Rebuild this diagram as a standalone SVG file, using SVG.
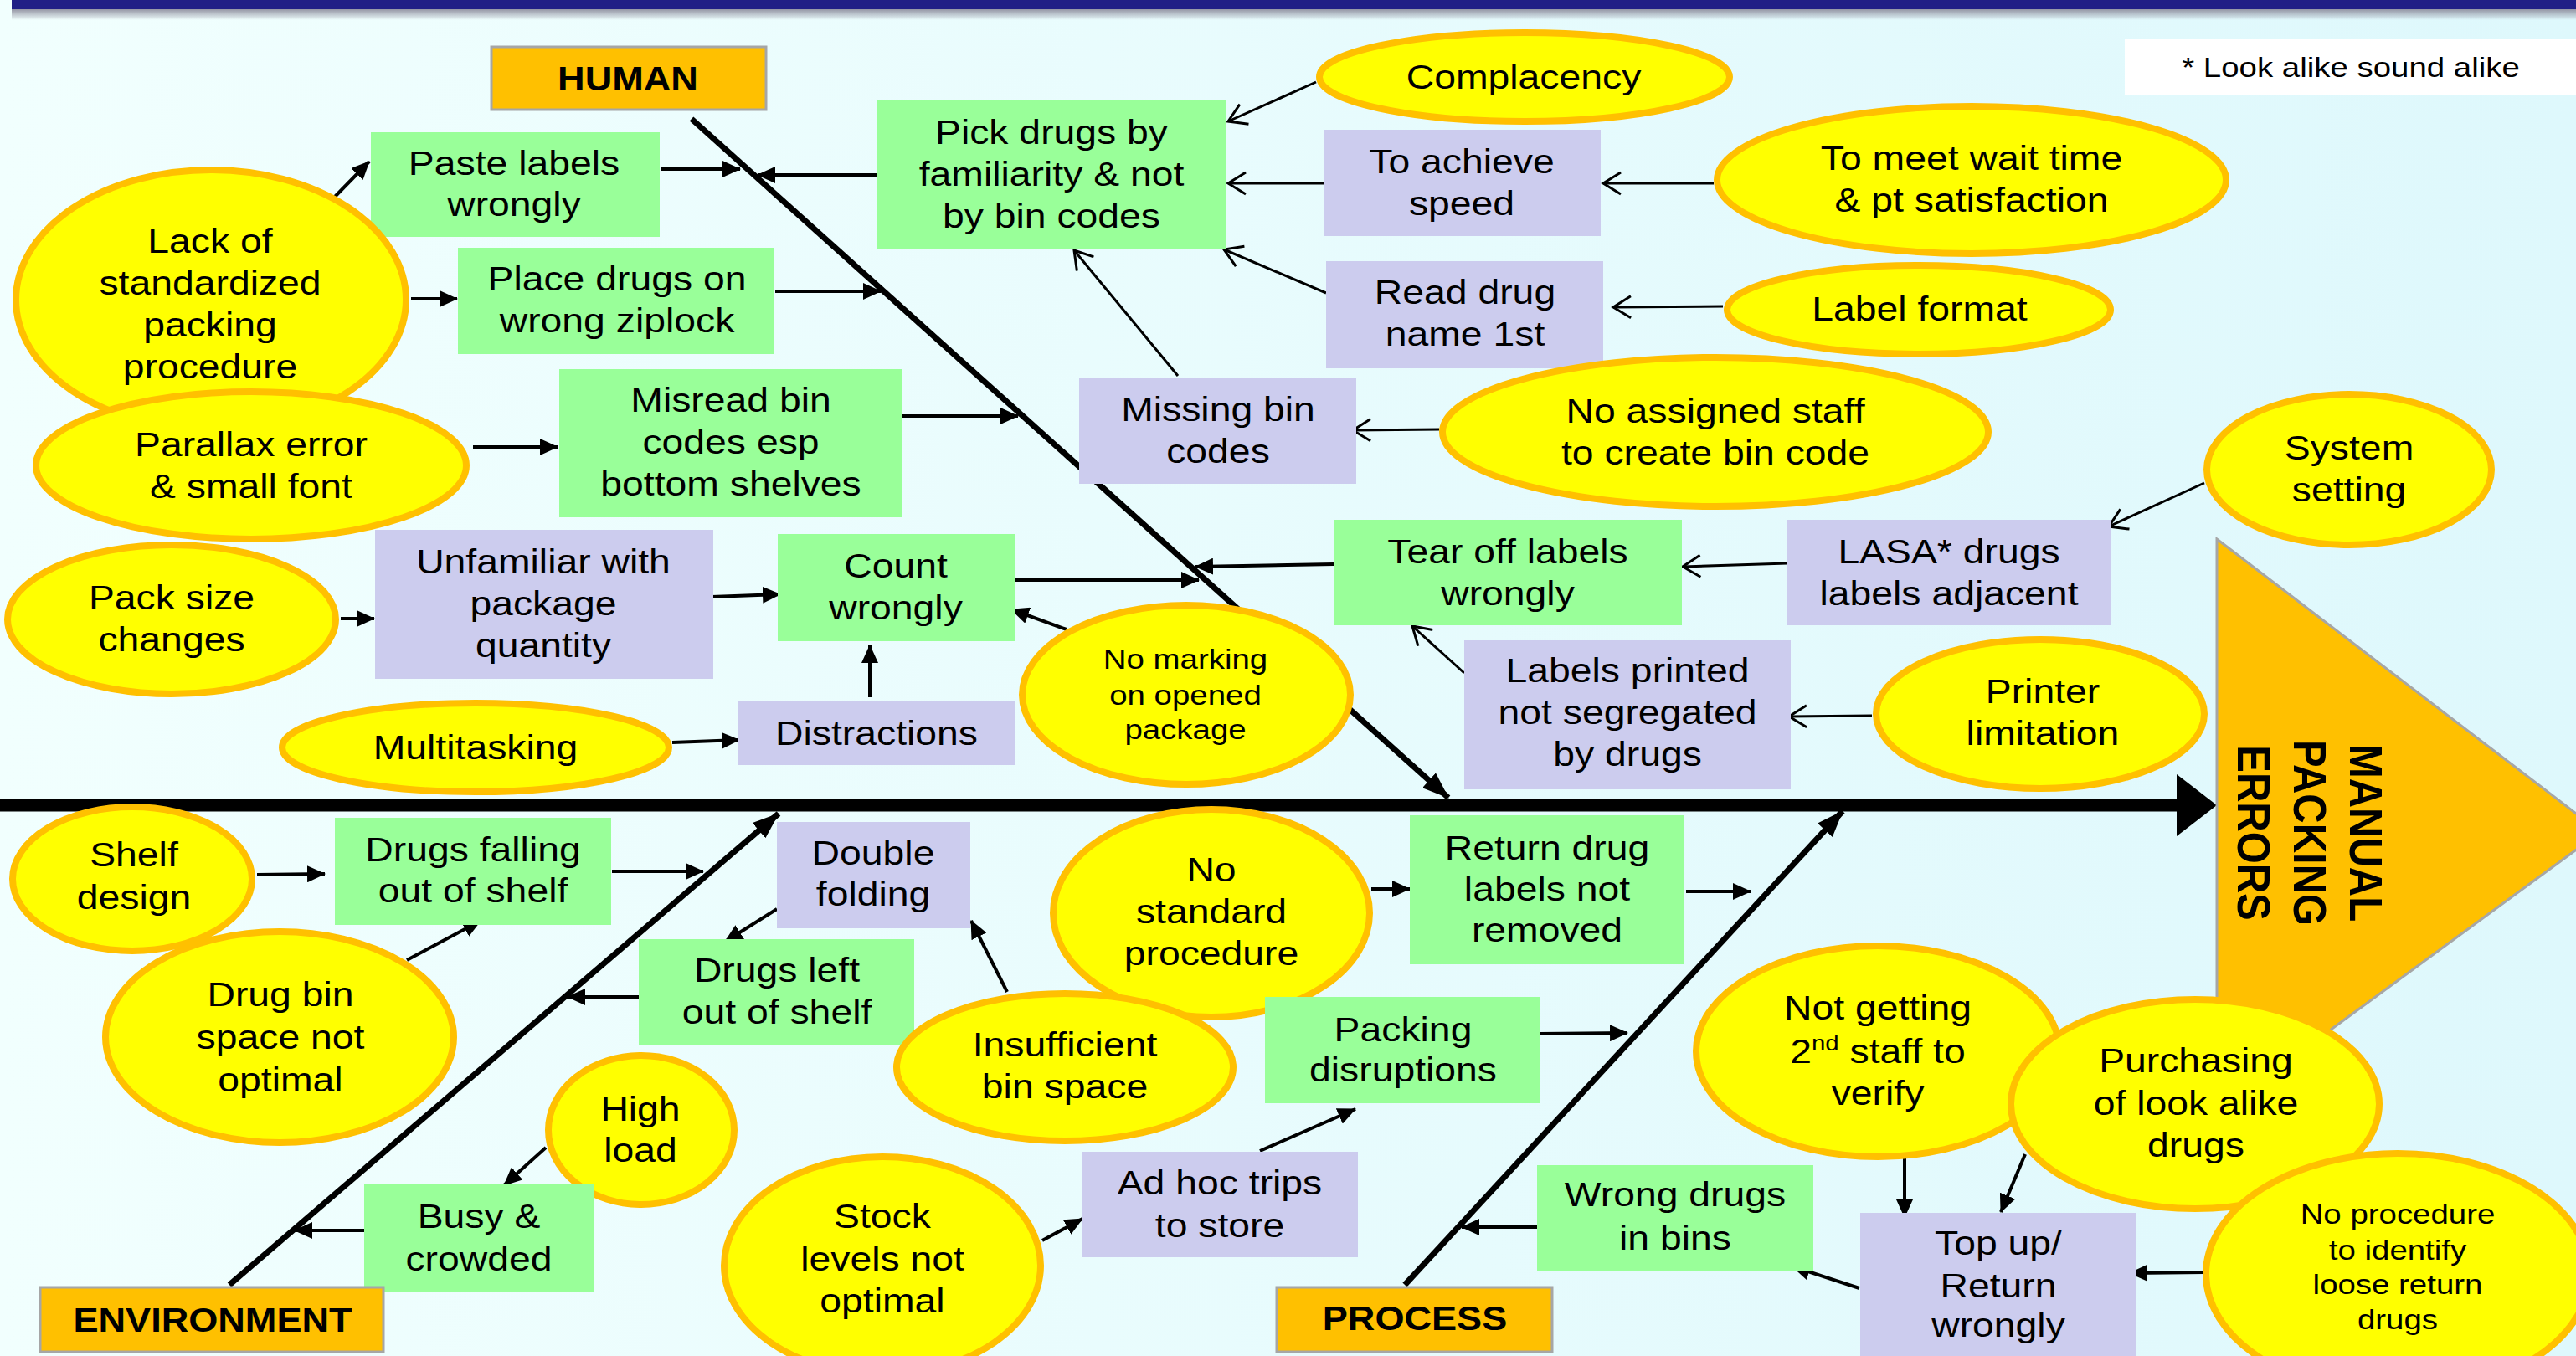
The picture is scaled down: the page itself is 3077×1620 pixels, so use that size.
<svg xmlns="http://www.w3.org/2000/svg" width="3077" height="1620" viewBox="0 0 3077 1620">
<defs>
<linearGradient id="bg" x1="0" y1="0" x2="1" y2="0">
<stop offset="0" stop-color="#F1FFFE"/><stop offset="1" stop-color="#DEF8FC"/>
</linearGradient>
<linearGradient id="sh" x1="0" y1="0" x2="0" y2="1">
<stop offset="0" stop-color="#8E8E9E"/><stop offset="1" stop-color="#8E8E9E" stop-opacity="0"/>
</linearGradient>
<marker id="fa" markerUnits="userSpaceOnUse" viewBox="0 0 22 20" markerWidth="22" markerHeight="20" refX="21" refY="10" orient="auto"><path d="M0,0 L22,10 L0,20 Z" fill="#000"/></marker>
<marker id="fb" markerUnits="userSpaceOnUse" viewBox="0 0 32 24" markerWidth="32" markerHeight="24" refX="31" refY="12" orient="auto"><path d="M0,0 L32,12 L0,24 Z" fill="#000"/></marker>
<marker id="oa" markerUnits="userSpaceOnUse" viewBox="0 0 26 30" markerWidth="26" markerHeight="30" refX="23" refY="15" orient="auto"><path d="M2,2 L23,15 L2,28" fill="none" stroke="#000" stroke-width="3"/></marker>
</defs>
<style>
.t{font-family:"Liberation Sans",Arial,sans-serif;font-size:41px;text-anchor:middle;fill:#000}
.s{font-size:34px}
.b{font-weight:bold}
.g{fill:#99FF99}
.l{fill:#CCCCEE}
.y{fill:#FFFF00;stroke:#FFC000;stroke-width:8}
.o{fill:#FFC000;stroke:#A6A6A6;stroke-width:3}
.cf{stroke:#000;stroke-width:4;fill:none;marker-end:url(#fa)}
.co{stroke:#000;stroke-width:3;fill:none;marker-end:url(#oa)}
.br{stroke:#000;stroke-width:7;fill:none;marker-end:url(#fb)}
</style>
<rect x="0" y="0" width="3077" height="1620" fill="url(#bg)"/>
<rect x="14" y="10" width="3063" height="14" fill="url(#sh)"/>
<rect x="14" y="0" width="3063" height="11" fill="#211F86"/>

<g id="connectors">
<line x1="0" y1="962" x2="2604" y2="962" stroke="#000" stroke-width="15"/>
<polygon points="2600,925 2648,962 2600,999" fill="#000"/>
<path class="br" d="M826,142 L1730,953"/>
<path class="br" d="M274,1535 L930,972"/>
<path class="br" d="M1678,1535 L2201,969"/>
<path class="cf" d="M400,235 L441,193"/>
<path class="cf" d="M491,357 L546,357"/>
<path class="cf" d="M789,202 L884,202"/>
<path class="cf" d="M926,348 L1052,348"/>
<path class="cf" d="M1077,497 L1216,497"/>
<path class="cf" d="M1047,209 L905,209"/>
<path class="cf" d="M1212,693 L1432,693"/>
<path class="cf" d="M1593,674 L1428,677"/>
<path class="cf" d="M1274,752 L1208,728"/>
<path class="cf" d="M1039,833 L1039,771"/>
<path class="cf" d="M850,713 L932,710"/>
<path class="cf" d="M407,739 L447,739"/>
<path class="cf" d="M803,887 L883,884"/>
<path class="cf" d="M565,534 L666,534"/>
<path class="cf" d="M307,1045 L388,1044"/>
<path class="cf" d="M731,1041 L840,1041"/>
<path class="cf" d="M486,1147 L574,1100"/>
<path class="cf" d="M928,1086 L866,1125"/>
<path class="cf" d="M763,1191 L678,1191"/>
<path class="cf" d="M652,1371 L602,1416"/>
<path class="cf" d="M435,1470 L352,1470"/>
<path class="cf" d="M1203,1185 L1160,1100"/>
<path class="cf" d="M1638,1062 L1684,1062"/>
<path class="cf" d="M2014,1065 L2091,1065"/>
<path class="cf" d="M1840,1235 L1944,1234"/>
<path class="cf" d="M1505,1375 L1619,1325"/>
<path class="cf" d="M1245,1482 L1293,1456"/>
<path class="cf" d="M1836,1466 L1746,1466"/>
<path class="cf" d="M2275,1376 L2275,1454"/>
<path class="cf" d="M2419,1379 L2390,1448"/>
<path class="cf" d="M2221,1539 L2141,1513"/>
<path class="cf" d="M2633,1520 L2544,1521"/>
<path class="co" d="M1572,98 L1467,145"/>
<path class="co" d="M1581,219 L1467,219"/>
<path class="co" d="M2047,219 L1915,219"/>
<path class="co" d="M1584,350 L1462,298"/>
<path class="co" d="M2058,366 L1927,367"/>
<path class="co" d="M1407,449 L1283,299" stroke-width="2"/>
<path class="co" d="M1719,513 L1616,514"/>
<path class="co" d="M2135,673 L2010,677"/>
<path class="co" d="M2633,577 L2519,629"/>
<path class="co" d="M1749,804 L1687,748"/>
<path class="co" d="M2236,855 L2137,856"/>
</g>

<g id="effect">
<polygon points="2648,644 3106,994 2648,1330" fill="#FFC000" stroke="#A6A6A6" stroke-width="3"/>
<text class="t b" font-size="49" transform="translate(2807 995) scale(1.13 1) rotate(90)" x="0" y="0" style="font-size:49px">MANUAL</text>
<text class="t b" transform="translate(2740 995) scale(1.13 1) rotate(90)" x="0" y="0" style="font-size:49px">PACKING</text>
<text class="t b" transform="translate(2673 995) scale(1.13 1) rotate(90)" x="0" y="0" style="font-size:49px">ERRORS</text>
</g>

<g id="human"><rect class="o" x="587" y="56" width="328" height="75"/><text class="t b" transform="translate(750 0) scale(1.1 1)" x="0" y="108">HUMAN</text></g>
<g id="paste"><rect class="g" x="443" y="158" width="345" height="125"/><text class="t" transform="translate(614 0) scale(1.13 1)"><tspan x="0" y="209">Paste labels</tspan><tspan x="0" y="258">wrongly</tspan></text></g>
<g id="place"><rect class="g" x="547" y="296" width="378" height="127"/><text class="t" transform="translate(737 0) scale(1.13 1)"><tspan x="0" y="347">Place drugs on</tspan><tspan x="0" y="397">wrong ziplock</tspan></text></g>
<g id="lack"><ellipse class="y" cx="252" cy="358" rx="233" ry="155"/><text class="t" transform="translate(251 0) scale(1.13 1)"><tspan x="0" y="302">Lack of</tspan><tspan x="0" y="352">standardized</tspan><tspan x="0" y="402">packing</tspan><tspan x="0" y="452">procedure</tspan></text></g>
<g id="misread"><rect class="g" x="668" y="441" width="409" height="177"/><text class="t" transform="translate(873 0) scale(1.13 1)"><tspan x="0" y="492">Misread bin</tspan><tspan x="0" y="542">codes esp</tspan><tspan x="0" y="592">bottom shelves</tspan></text></g>
<g id="parallax"><ellipse class="y" cx="300" cy="556" rx="257" ry="88"/><text class="t" transform="translate(300 0) scale(1.13 1)"><tspan x="0" y="545">Parallax error</tspan><tspan x="0" y="595">&amp; small font</tspan></text></g>
<g id="pack"><ellipse class="y" cx="205" cy="740" rx="196" ry="89"/><text class="t" transform="translate(205 0) scale(1.13 1)"><tspan x="0" y="728">Pack size</tspan><tspan x="0" y="778">changes</tspan></text></g>
<g id="unfamiliar"><rect class="l" x="448" y="633" width="404" height="178"/><text class="t" transform="translate(649 0) scale(1.13 1)"><tspan x="0" y="685">Unfamiliar with</tspan><tspan x="0" y="735">package</tspan><tspan x="0" y="785">quantity</tspan></text></g>
<g id="count"><rect class="g" x="929" y="638" width="283" height="128"/><text class="t" transform="translate(1070 0) scale(1.13 1)"><tspan x="0" y="690">Count</tspan><tspan x="0" y="740">wrongly</tspan></text></g>
<g id="multitasking"><ellipse class="y" cx="568" cy="893" rx="231" ry="53"/><text class="t" transform="translate(568 0) scale(1.13 1)" x="0" y="907">Multitasking</text></g>
<g id="distractions"><rect class="l" x="882" y="838" width="330" height="76"/><text class="t" transform="translate(1047 0) scale(1.13 1)" x="0" y="890">Distractions</text></g>
<g id="pick"><rect class="g" x="1048" y="120" width="417" height="178"/><text class="t" transform="translate(1256 0) scale(1.13 1)"><tspan x="0" y="172">Pick drugs by</tspan><tspan x="0" y="222">familiarity &amp; not</tspan><tspan x="0" y="272">by bin codes</tspan></text></g>
<g id="complacency"><ellipse class="y" cx="1821" cy="92" rx="245" ry="53"/><text class="t" transform="translate(1820 0) scale(1.13 1)" x="0" y="106">Complacency</text></g>
<g id="achieve"><rect class="l" x="1581" y="155" width="331" height="127"/><text class="t" transform="translate(1746 0) scale(1.13 1)"><tspan x="0" y="207">To achieve</tspan><tspan x="0" y="257">speed</tspan></text></g>
<g id="meet"><ellipse class="y" cx="2355" cy="215" rx="304" ry="88"/><text class="t" transform="translate(2355 0) scale(1.13 1)"><tspan x="0" y="203">To meet wait time</tspan><tspan x="0" y="253">&amp; pt satisfaction</tspan></text></g>
<g id="read"><rect class="l" x="1584" y="312" width="331" height="128"/><text class="t" transform="translate(1750 0) scale(1.13 1)"><tspan x="0" y="363">Read drug</tspan><tspan x="0" y="413">name 1st</tspan></text></g>
<g id="labelformat"><ellipse class="y" cx="2292" cy="370" rx="229" ry="53"/><text class="t" transform="translate(2293 0) scale(1.13 1)" x="0" y="383">Label format</text></g>
<g id="note"><rect x="2538" y="46" width="539" height="68" fill="#FFFFFF"/><text class="t s" transform="translate(2808 0) scale(1.13 1)" x="0" y="92">* Look alike sound alike</text></g>
<g id="missing"><rect class="l" x="1289" y="451" width="331" height="127"/><text class="t" transform="translate(1455 0) scale(1.13 1)"><tspan x="0" y="503">Missing bin</tspan><tspan x="0" y="553">codes</tspan></text></g>
<g id="noassigned"><ellipse class="y" cx="2049" cy="516" rx="326" ry="89"/><text class="t" transform="translate(2049 0) scale(1.13 1)"><tspan x="0" y="505">No assigned staff</tspan><tspan x="0" y="555">to create bin code</tspan></text></g>
<g id="system"><ellipse class="y" cx="2806" cy="561" rx="170" ry="90"/><text class="t" transform="translate(2806 0) scale(1.13 1)"><tspan x="0" y="549">System</tspan><tspan x="0" y="599">setting</tspan></text></g>
<g id="lasa"><rect class="l" x="2135" y="621" width="387" height="126"/><text class="t" transform="translate(2328 0) scale(1.13 1)"><tspan x="0" y="673">LASA* drugs</tspan><tspan x="0" y="723">labels adjacent</tspan></text></g>
<g id="tear"><rect class="g" x="1593" y="621" width="416" height="126"/><text class="t" transform="translate(1801 0) scale(1.13 1)"><tspan x="0" y="673">Tear off labels</tspan><tspan x="0" y="723">wrongly</tspan></text></g>
<g id="nomarking"><ellipse class="y" cx="1417" cy="830" rx="196" ry="107"/><text class="t s" transform="translate(1416 0) scale(1.13 1)"><tspan x="0" y="799">No marking</tspan><tspan x="0" y="842">on opened</tspan><tspan x="0" y="883">package</tspan></text></g>
<g id="printed"><rect class="l" x="1749" y="765" width="390" height="178"/><text class="t" transform="translate(1944 0) scale(1.13 1)"><tspan x="0" y="815">Labels printed</tspan><tspan x="0" y="865">not segregated</tspan><tspan x="0" y="915">by drugs</tspan></text></g>
<g id="printer"><ellipse class="y" cx="2437" cy="853" rx="196" ry="89"/><text class="t" transform="translate(2440 0) scale(1.13 1)"><tspan x="0" y="840">Printer</tspan><tspan x="0" y="890">limitation</tspan></text></g>

<g id="shelf"><ellipse class="y" cx="158" cy="1050" rx="143" ry="86"/><text class="t" transform="translate(160 0) scale(1.13 1)"><tspan x="0" y="1035">Shelf</tspan><tspan x="0" y="1086">design</tspan></text></g>
<g id="falling"><rect class="g" x="400" y="977" width="330" height="128"/><text class="t" transform="translate(565 0) scale(1.13 1)"><tspan x="0" y="1029">Drugs falling</tspan><tspan x="0" y="1078">out of shelf</tspan></text></g>
<g id="drugbin"><ellipse class="y" cx="334" cy="1239" rx="208" ry="126"/><text class="t" transform="translate(335 0) scale(1.13 1)"><tspan x="0" y="1202">Drug bin</tspan><tspan x="0" y="1253">space not</tspan><tspan x="0" y="1304">optimal</tspan></text></g>
<g id="double"><rect class="l" x="928" y="982" width="231" height="127"/><text class="t" transform="translate(1043 0) scale(1.13 1)"><tspan x="0" y="1033">Double</tspan><tspan x="0" y="1082">folding</tspan></text></g>
<g id="left"><rect class="g" x="763" y="1122" width="329" height="127"/><text class="t" transform="translate(928 0) scale(1.13 1)"><tspan x="0" y="1173">Drugs left</tspan><tspan x="0" y="1223">out of shelf</tspan></text></g>
<g id="high"><ellipse class="y" cx="766" cy="1350" rx="111" ry="89"/><text class="t" transform="translate(765 0) scale(1.13 1)"><tspan x="0" y="1339">High</tspan><tspan x="0" y="1388">load</tspan></text></g>
<g id="busy"><rect class="g" x="435" y="1415" width="274" height="128"/><text class="t" transform="translate(572 0) scale(1.13 1)"><tspan x="0" y="1467">Busy &amp;</tspan><tspan x="0" y="1518">crowded</tspan></text></g>
<g id="environment"><rect class="o" x="48" y="1538" width="410" height="77"/><text class="t b" transform="translate(254 0) scale(1.1 1)" x="0" y="1591">ENVIRONMENT</text></g>
<g id="stock"><ellipse class="y" cx="1054" cy="1512" rx="189" ry="130"/><text class="t" transform="translate(1054 0) scale(1.13 1)"><tspan x="0" y="1467">Stock</tspan><tspan x="0" y="1518">levels not</tspan><tspan x="0" y="1568">optimal</tspan></text></g>
<g id="nostandard"><ellipse class="y" cx="1447" cy="1091" rx="189" ry="124"/><text class="t" transform="translate(1447 0) scale(1.13 1)"><tspan x="0" y="1053">No</tspan><tspan x="0" y="1103">standard</tspan><tspan x="0" y="1153">procedure</tspan></text></g>
<g id="insufficient"><ellipse class="y" cx="1272" cy="1275" rx="201" ry="88"/><text class="t" transform="translate(1272 0) scale(1.13 1)"><tspan x="0" y="1262">Insufficient</tspan><tspan x="0" y="1312">bin space</tspan></text></g>
<g id="return"><rect class="g" x="1684" y="974" width="328" height="178"/><text class="t" transform="translate(1848 0) scale(1.13 1)"><tspan x="0" y="1027">Return drug</tspan><tspan x="0" y="1076">labels not</tspan><tspan x="0" y="1125">removed</tspan></text></g>
<g id="packing"><rect class="g" x="1511" y="1191" width="329" height="127"/><text class="t" transform="translate(1676 0) scale(1.13 1)"><tspan x="0" y="1244">Packing</tspan><tspan x="0" y="1292">disruptions</tspan></text></g>
<g id="adhoc"><rect class="l" x="1292" y="1376" width="330" height="126"/><text class="t" transform="translate(1457 0) scale(1.13 1)"><tspan x="0" y="1427">Ad hoc trips</tspan><tspan x="0" y="1478">to store</tspan></text></g>
<g id="process"><rect class="o" x="1525" y="1538" width="329" height="77"/><text class="t b" transform="translate(1690 0) scale(1.1 1)" x="0" y="1589">PROCESS</text></g>
<g id="wrong"><rect class="g" x="1836" y="1392" width="330" height="127"/><text class="t" transform="translate(2001 0) scale(1.13 1)"><tspan x="0" y="1441">Wrong drugs</tspan><tspan x="0" y="1493">in bins</tspan></text></g>
<g id="notgetting"><ellipse class="y" cx="2243" cy="1256" rx="217" ry="126"/><text class="t" transform="translate(2243 0) scale(1.13 1)"><tspan x="0" y="1218">Not getting</tspan><tspan x="0" y="1270">2<tspan dy="-15" style="font-size:26px">nd</tspan><tspan dy="15"> staff to</tspan></tspan><tspan x="0" y="1320">verify</tspan></text></g>
<g id="purchasing"><ellipse class="y" cx="2622" cy="1319" rx="220" ry="125"/><text class="t" transform="translate(2623 0) scale(1.13 1)"><tspan x="0" y="1281">Purchasing</tspan><tspan x="0" y="1332">of look alike</tspan><tspan x="0" y="1382">drugs</tspan></text></g>
<g id="noprocedure"><ellipse class="y" cx="2864" cy="1522" rx="229" ry="144"/><text class="t s" transform="translate(2864 0) scale(1.13 1)"><tspan x="0" y="1462">No procedure</tspan><tspan x="0" y="1505">to identify</tspan><tspan x="0" y="1546">loose return</tspan><tspan x="0" y="1588">drugs</tspan></text></g>
<g id="topup"><rect class="l" x="2222" y="1449" width="330" height="180"/><text class="t" transform="translate(2387 0) scale(1.13 1)"><tspan x="0" y="1499">Top up/</tspan><tspan x="0" y="1550">Return</tspan><tspan x="0" y="1597">wrongly</tspan></text></g>
</svg>
